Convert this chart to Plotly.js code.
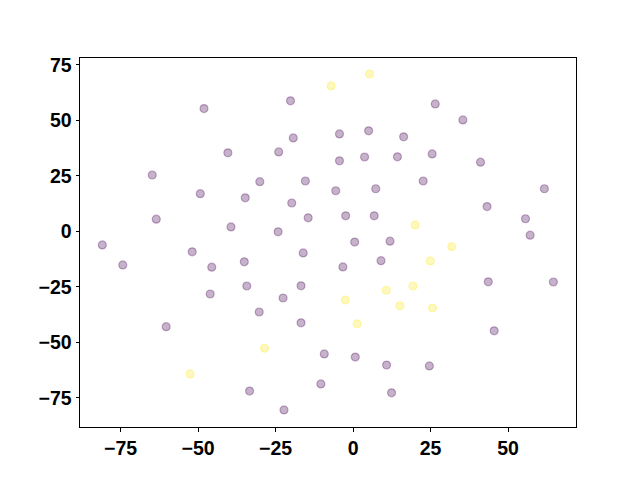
<!DOCTYPE html>
<html>
<head>
<meta charset="utf-8">
<script src="https://cdn.plot.ly/plotly-3.0.1.min.js"></script>
<style>html,body{margin:0;padding:0;background:#fff;}#chart{width:640px;height:480px;}</style>
</head>
<body>
<div id="chart"></div>
<script>
// Cluster 0 (purple)
var purpleX = [-80.9, -74.3, -64.8, -63.5, -60.3, -51.9, -49.3, -48.1, -45.6, -46.1,
  -40.4, -39.4, -34.8, -35.1, -34.3, -33.4, -30.1, -30.3, -24.0, -24.2,
  -22.6, -22.3, -20.2, -19.8, -19.3, -16.1, -15.4, -14.5, -16.8, -16.8,
  -10.4, -9.3, -5.6, -4.4, -4.4, -2.4, -3.3, 0.5, 0.7, 3.7,
  5.0, 6.8, 7.3, 9.0, 11.9, 10.8, 12.4, 14.3, 16.3, 22.6,
  25.5, 26.5, 35.4, 41.1, 43.2, 43.6, 45.5, 24.6, 55.6, 57.1,
  61.7, 64.6];
var purpleY = [-6.1, -15.1, 25.4, 5.5, -42.9, -9.2, 17.0, 55.3, -16.1, -28.2,
  35.4, 2.0, 15.1, -13.7, -24.6, -71.9, 22.4, -36.3, 35.8, -0.2,
  -30.0, -80.4, 58.8, 12.8, 42.1, -9.7, 22.7, 6.1, -24.5, -41.2,
  -68.7, -55.2, 18.3, 43.9, 31.8, 7.0, -16.0, -4.8, -56.6, 33.5,
  45.3, 7.0, 19.2, -13.2, -4.4, -60.2, -72.7, 33.6, 42.6, 22.7,
  34.9, 57.4, 50.2, 31.2, 11.2, -22.7, -44.8, -60.6, 5.7, -1.7,
  19.2, -22.8];
// Cluster 1 (yellow)
var yellowX = [5.3, -7.1, 20.0, 31.8, 24.9, 19.3, 25.6, 10.7, 15.1, -2.5, 1.3, -28.6, -52.6];
var yellowY = [70.9, 65.5, 2.9, -6.9, -13.3, -24.6, -34.5, -26.5, -33.5, -30.9, -41.6, -52.6, -64.2];

var xTicks = [-75, -50, -25, 0, 25, 50];
var yTicks = [-75, -50, -25, 0, 25, 50, 75];

function trace(xs, ys, rgb) {
  return {
    type: 'scatter', mode: 'markers', x: xs, y: ys, hoverinfo: 'skip',
    marker: {size: 8, color: 'rgba(' + rgb + ',0.3)', line: {width: 1.2, color: 'rgba(' + rgb + ',0.3)'}}
  };
}

var data = [trace(purpleX, purpleY, '68,1,84'), trace(yellowX, yellowY, '253,231,37')];

var axisBase = {
  showgrid: false, zeroline: false, showline: true, linecolor: '#000', linewidth: 1,
  mirror: true, ticks: 'outside', ticklen: 3.5, tickwidth: 1, tickcolor: '#000',
  tickfont: {family: 'Liberation Sans, Arial, sans-serif', size: 19.5, color: '#000', weight: 'bold'}
};

var layout = {
  width: 640, height: 480,
  margin: {l: 80, r: 64, t: 58, b: 53},
  paper_bgcolor: '#fff', plot_bgcolor: '#fff',
  showlegend: false,
  xaxis: Object.assign({}, axisBase, {range: [-88.1, 71.9], tickvals: xTicks}),
  yaxis: Object.assign({}, axisBase, {range: [-88.1, 78.1], tickvals: yTicks})
};

Plotly.newPlot('chart', data, layout, {displayModeBar: false, staticPlot: true});
</script>
</body>
</html>
